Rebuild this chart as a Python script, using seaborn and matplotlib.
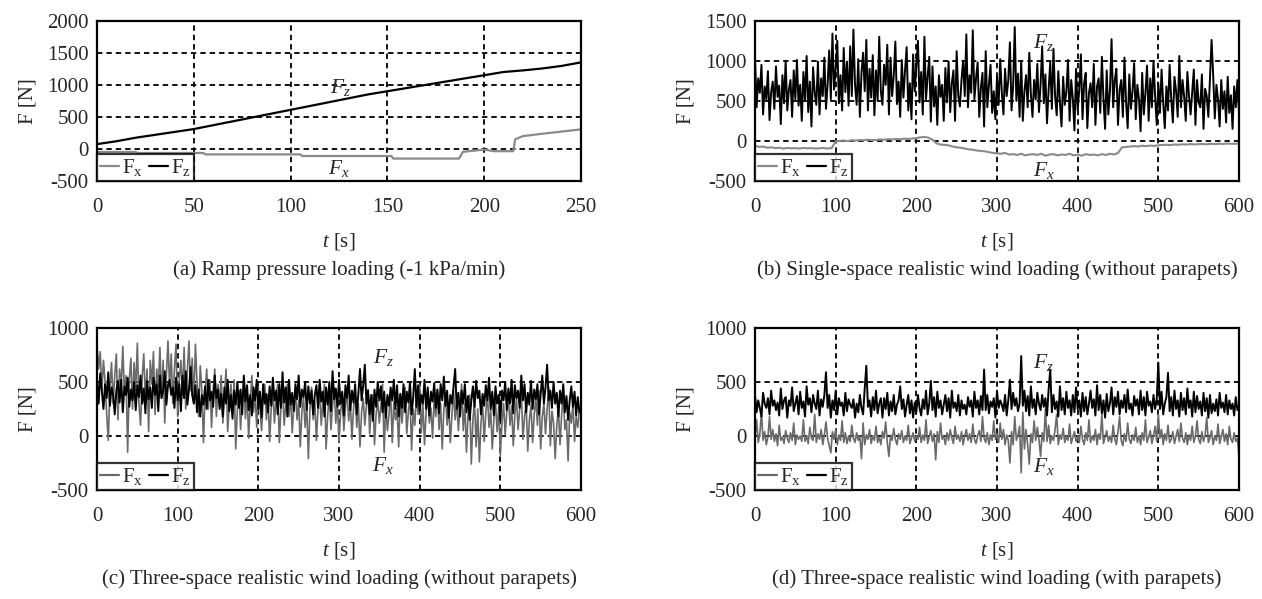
import numpy as np
import matplotlib
matplotlib.use("Agg")
import matplotlib.pyplot as plt
import seaborn as sns

sns.set_style("white")
plt.rcParams['font.family'] = ['Liberation Serif', 'DejaVu Serif']
plt.rcParams['mathtext.fontset'] = 'custom'
plt.rcParams['mathtext.rm'] = 'Liberation Serif'
plt.rcParams['mathtext.it'] = 'Liberation Serif:italic'
plt.rcParams['axes.unicode_minus'] = False

# ---- (a) ramp pressure loading
t_a_fz = [0, 10, 20, 30, 40, 50, 60, 70, 80, 90, 100, 110, 120, 130, 140, 150,
          160, 170, 180, 190, 200, 210, 220, 230, 240, 250]
fz_a = [75, 120, 175, 220, 265, 310, 370, 430, 490, 550, 610, 670, 730, 790, 850, 900,
        950, 1000, 1050, 1100, 1150, 1200, 1225, 1255, 1295, 1350]
t_a_fx = [0, 20, 21, 55, 56, 105, 106, 152, 153, 187, 189, 200, 205, 215, 216, 220, 230, 250]
fx_a = [-47, -47, -63, -63, -85, -85, -110, -110, -150, -150, -45, -10, -35, -35, 150, 200, 237, 305]

# sampling grid of the wind records (2 s)
t_wind = np.arange(0, 601, 2)

# ---- (b) single-space realistic wind loading (without parapets)
fz_b = [1050, 420, 780, 600, 950, 330, 680, 520, 870, 260, 610, 740, 400, 930, 550,
        690, 210, 820, 470, 1000, 380, 640, 760, 300, 880, 520, 1010, 440, 700, 250,
        860, 510, 1060, 360, 740, 180, 920, 600, 450, 990, 330, 780, 560, 1040, 400,
        700, 1130, 520, 1340, 640, 900, 1250, 470, 820, 380, 1160, 610, 990, 440, 1180,
        560, 1390, 700, 450, 1020, 300, 850, 1100, 620, 1260, 380, 900, 540, 1070, 320,
        880, 500, 1300, 620, 450, 950, 700, 1200, 330, 1040, 560, 820, 1240, 460, 740,
        300, 1010, 540, 880, 1170, 380, 720, 270, 1080, 620, 940, 1250, 480, 860, 330,
        1300, 520, 800, 1050, 240, 930, 430, 680, 200, 820, 550, 700, 250, 910, 480,
        990, 360, 720, 880, 250, 1120, 560, 430, 760, 1000, 560, 1330, 420, 820, 600,
        1380, 520, 780, 980, 300, 660, 850, 180, 1120, 420, 700, 950, 350, 620, 270,
        800, 450, 1020, 600, 330, 900, 560, 760, 1230, 380, 690, 1420, 500, 840, 300,
        1000, 250, 620, 820, 420, 1100, 580, 300, 760, 520, 960, 360, 700, 1180, 470,
        830, 220, 640, 980, 400, 1150, 560, 320, 870, 480, 180, 800, 450, 620, 1010,
        250, 760, 530, 130, 900, 380, 640, 1080, 270, 720, 850, 160, 600, 720, 420,
        960, 200, 680, 780, 350, 1050, 520, 150, 880, 330, 620, 1270, 420, 760, 900,
        200, 640, 760, 300, 1040, 480, 160, 830, 400, 620, 970, 270, 700, 520, 120,
        850, 330, 600, 940, 250, 780, 420, 1000, 560, 200, 720, 350, 890, 480, 160,
        680, 380, 950, 520, 230, 800, 620, 300, 1060, 420, 760, 550, 250, 860, 560,
        330, 620, 890, 200, 760, 480, 420, 830, 150, 650, 560, 300, 780, 1260, 820,
        280, 700, 520, 180, 760, 400, 620, 230, 800, 350, 570, 150, 680, 420, 760,
        350]
t_b_fx = np.arange(0, 601, 5)
fx_b = [-60, -75, -70, -85, -80, -90, -85, -95, -88, -92,
        -90, -95, -88, -92, -90, -95, -92, -88, -95, -90,
        -5, 0, 5, -2, 8, 5, 12, 8, 15, 10,
        12, 18, 15, 22, 18, 25, 20, 28, 25, 30,
        35, 45, 50, 40, 15, -30, -45, -50, -55, -70,
        -80, -85, -95, -105, -110, -120, -125, -130, -140, -150,
        -155, -160, -150, -170, -165, -175, -160, -180, -170, -165,
        -175, -160, -185, -170, -165, -180, -170, -175, -160, -180,
        -170, -185, -165, -175, -170, -180, -165, -175, -160, -170,
        -150, -80, -75, -70, -65, -70, -60, -65, -58, -62,
        -55, -50, -48, -52, -45, -48, -42, -45, -40, -44,
        -40, -38, -42, -36, -40, -35, -38, -33, -36, -35,
        -35]

# ---- (c) three-space realistic wind loading (without parapets)
fz_c = [520, 300, 580, 420, 250, 480, 350, 590, 280, 450, 380, 200, 420, 510, 310,
        520, 220, 460, 380, 540, 270, 430, 330, 500, 240, 470, 360, 560, 300, 440,
        210, 510, 340, 450, 260, 540, 380, 480, 230, 560, 350, 420, 600, 290, 470,
        520, 380, 450, 260, 540, 330, 480, 230, 560, 350, 600, 290, 430, 640, 380,
        300, 470, 220, 430, 180, 380, 290, 460, 250, 520, 330, 410, 270, 560, 350,
        430, 250, 390, 180, 450, 300, 520, 230, 380, 160, 420, 290, 500, 260, 430,
        200, 560, 320, 470, 240, 380, 190, 450, 330, 520, 250, 410, 170, 480, 300,
        390, 220, 460, 280, 540, 330, 420, 200, 480, 260, 590, 310, 450, 180, 520,
        290, 400, 230, 480, 340, 560, 270, 430, 360, 500, 240, 460, 300, 420, 200,
        380, 470, 260, 520, 320, 410, 180, 450, 290, 500, 230, 600, 340, 440, 270,
        520, 300, 410, 190, 470, 350, 560, 240, 420, 310, 480, 200, 390, 620, 330,
        470, 660, 300, 420, 200, 380, 140, 430, 270, 500, 330, 460, 220, 410, 170,
        380, 280, 450, 330, 520, 250, 470, 180, 390, 260, 480, 220, 410, 310, 500,
        200, 360, 620, 270, 470, 230, 380, 300, 520, 250, 450, 190, 410, 320, 490,
        260, 430, 210, 480, 330, 550, 280, 420, 170, 380, 300, 460, 620, 250, 400,
        180, 420, 300, 480, 220, 370, 150, 330, 460, 270, 510, 350, 420, 200, 390,
        280, 470, 330, 540, 250, 410, 190, 460, 300, 380, 140, 420, 330, 500, 240,
        440, 300, 520, 210, 470, 350, 420, 260, 560, 330, 480, 220, 400, 290, 510,
        250, 430, 340, 480, 200, 390, 560, 300, 450, 660, 330, 420, 260, 500, 300,
        400, 180, 420, 300, 480, 220, 370, 150, 330, 460, 270, 410, 190, 360, 220,
        260]
fx_c = [850, 620, 780, 420, 700, 500, 200, -40, 450, 680, 300, 560, 760, 150, 620,
        450, 830, 380, 560, -150, 520, 720, 250, 680, 420, 860, 300, 100, 540, 760,
        330, 620, 40, 700, 480, 780, 200, 620, 450, 820, 350, 700, 120, 560, 880,
        450, 760, 300, 620, 850, 180, 520, 700, 380, 820, 250, 600, 880, 420, 720,
        300, 850, 500, 180, 650, 420, -60, 400, 620, 250, 520, 80, 430, 620, 180,
        480, 300, 560, 120, 380, 620, 40, 300, 480, 200, 520, -120, 250, 420, 60,
        350, 520, 160, 400, -20, 310, 560, 220, 380, 80, 450, 260, 50, 330, 480,
        150, 380, -50, 260, 420, 120, 350, 480, -60, 250, 450, 100, 300, 480, 180,
        380, 30, 280, 420, 150, 330, -100, 220, 360, 80, 300, -210, 250, 450, 150,
        320, -40, 250, 400, 100, 330, 480, -120, 200, 380, 60, 280, 450, 120, 310,
        -60, 220, 380, 50, 260, 420, 140, 330, -30, 250, 400, 80, 300, -100, 220,
        350, 100, 280, 430, 20, 250, 380, -80, 200, 330, 120, 280, 480, -150, 300,
        50, 200, 400, -60, 320, 150, 250, -100, 380, 120, 300, 450, 20, 230, 360,
        -130, 250, 100, 380, 200, 470, 30, 300, -80, 220, 400, 120, 260, -20, 350,
        180, 430, 60, 300, -120, 250, 380, 100, 280, -60, 200, 420, 150, 320, 50,
        280, 480, 50, 300, -150, 200, 380, -260, 150, 320, -100, 250, -240, 120, 300,
        -50, 220, 380, 80, 250, -120, 150, 320, 40, 270, -180, 120, 300, 10, 230,
        370, 100, 280, -90, 200, 350, 60, 250, 420, -30, 180, 300, -140, 150, 280,
        -60, 200, 350, 100, 420, -120, 180, 300, 20, 250, 450, -90, 230, 120, -210,
        100, 250, -80, 200, 380, 60, 150, -230, 220, 120, 300, -50, 180, 80, 250,
        220]

# ---- (d) three-space realistic wind loading (with parapets)
fz_d = [380, 220, 330, 260, 180, 400, 300, 260, 350, 200, 420, 280, 330, 240, 310,
        190, 440, 250, 330, 360, 170, 330, 280, 450, 230, 300, 370, 200, 410, 260,
        320, 180, 460, 290, 350, 220, 380, 300, 250, 420, 190, 340, 270, 380, 590,
        260, 380, 170, 330, 240, 420, 200, 350, 280, 310, 190, 400, 230, 340, 290,
        260, 340, 170, 300, 220, 380, 260, 200, 440, 650, 270, 330, 180, 360, 240,
        420, 210, 300, 350, 170, 350, 250, 400, 190, 320, 230, 380, 200, 290, 330,
        460, 250, 340, 180, 290, 380, 210, 330, 170, 310, 220, 380, 260, 190, 340,
        250, 420, 200, 300, 510, 240, 360, 180, 410, 260, 330, 200, 290, 380, 230,
        350, 170, 420, 260, 310, 230, 380, 190, 330, 250, 290, 200, 360, 270, 330,
        180, 410, 260, 330, 200, 370, 240, 615, 240, 380, 210, 320, 270, 350, 170,
        420, 260, 330, 290, 230, 380, 190, 330, 520, 250, 400, 280, 350, 230, 300,
        740, 280, 420, 230, 370, 190, 460, 260, 340, 200, 400, 300, 240, 380, 270,
        350, 190, 430, 615, 220, 380, 250, 320, 180, 460, 240, 350, 200, 410, 260,
        330, 190, 380, 220, 450, 250, 330, 180, 400, 230, 360, 200, 300, 420, 260,
        340, 190, 470, 240, 380, 210, 330, 170, 390, 230, 300, 450, 200, 360, 270,
        410, 200, 330, 260, 380, 220, 430, 250, 300, 190, 370, 280, 340, 200, 420,
        240, 360, 190, 410, 280, 320, 220, 380, 250, 340, 680, 250, 410, 200, 300,
        360, 585, 230, 360, 190, 420, 250, 330, 180, 400, 240, 350, 200, 440, 260,
        330, 180, 410, 220, 370, 250, 320, 190, 400, 230, 350, 170, 380, 210, 300,
        230, 340, 190, 400, 260, 310, 220, 380, 200, 330, 250, 300, 190, 360, 240,
        260]
fx_d = [-20, 150, -60, 20, 220, -40, 40, -80, -10, 180, -30, 60, -50, 20, -90,
        100, -40, -10, -70, 50, -20, -60, 30, -40, 120, -80, 10, -30, 0, -50,
        150, -50, 0, -70, 80, -20, -40, 200, -60, 20, -30, 60, -80, 10, 130,
        -20, -90, -155, 40, -30, 60, -80, 10, -40, 140, -60, 30, -70, 0, -50,
        100, -20, -60, 30, -40, 0, -210, 120, -80, 10, -30, 60, -70, 0, -40,
        90, -60, -10, -80, 40, -20, 130, -60, -190, 10, -40, 70, -30, -80, 20,
        -30, 50, -60, 0, -40, 100, -70, -20, 30, -50, 0, -30, 80, -60, 10,
        -40, 150, -70, -10, 50, -50, 20, -220, 40, -60, 120, -30, 0, -80, 30,
        -40, 60, -20, -70, 90, -30, 10, -50, 40, -80, 0, 60, -40, 20, -60,
        110, -30, -70, 0, 50, -50, 180, -20, -60, 30, -80, 10, -40, 140, -30,
        20, -60, 120, -30, 60, -80, 10, -40, -250, 40, -80, 180, -40, 10, 90,
        -340, 220, -120, 60, -80, -260, 20, -60, 140, -40, 80, -30, -190, 30, -50,
        250, -50, 100, -70, 0, -40, 60, 200, -80, 10, -30, 70, -60, 0, -40,
        110, -70, -10, 40, -50, 0, -60, 90, -30, -80, 30, -40, 150, -60, 0,
        -40, 60, -80, 20, -30, 200, -70, -10, 50, -50, 0, -60, 100, -30, -80,
        40, 180, -40, -90, 20, -50, 120, -30, -70, 10, -40, 80, -60, 0, -80,
        30, -40, 150, -60, -10, 50, -70, 0, 90, -50, 200, -20, 60, -80, 20,
        -40, 100, -60, -30, 40, -70, 0, 60, -50, 120, -20, -60, 30, -80, 10,
        -40, 90, -60, 0, 140, -30, -70, 40, -50, 10, 170, -60, -20, 50, -80,
        0, -40, 110, -70, -10, 60, -50, 20, -80, 90, -30, -60, 30, -50, -20,
        -190]

captions = ["(a) Ramp pressure loading (-1 kPa/min)",
            "(b) Single-space realistic wind loading (without parapets)",
            "(c) Three-space realistic wind loading (without parapets)",
            "(d) Three-space realistic wind loading (with parapets)"]

fig = plt.figure(figsize=(12.62, 5.99), dpi=100)
W, H = 1262, 599
boxes = [(97, 20.7, 581, 181), (755, 20.7, 1239, 181),
         (97, 328, 581, 490), (755, 328, 1239, 490)]
axes = [fig.add_axes([l / W, 1 - b / H, (r - l) / W, (b - t) / H]) for (l, t, r, b) in boxes]

panels = [
    dict(tx=t_a_fx, fx=fx_a, tz=t_a_fz, fz=fz_a, xlim=(0, 250), xt=np.arange(0, 251, 50),
         ylim=(-500, 2000), yt=np.arange(-500, 2001, 500), lwx=1.6, lwz=1.6, gray='#8a8a8a',
         fzpos=(126, 960), fxpos=(125, -300)),
    dict(tx=t_b_fx, fx=fx_b, tz=t_wind, fz=fz_b, xlim=(0, 600), xt=np.arange(0, 601, 100),
         ylim=(-500, 1500), yt=np.arange(-500, 1501, 500), lwx=1.5, lwz=1.4, gray='#8a8a8a',
         fzpos=(358, 1225), fxpos=(358, -375)),
    dict(tx=t_wind, fx=fx_c, tz=t_wind, fz=fz_c, xlim=(0, 600), xt=np.arange(0, 601, 100),
         ylim=(-500, 1000), yt=np.arange(-500, 1001, 500), lwx=1.2, lwz=1.4, gray='#6a6a6a',
         fzpos=(355, 730), fxpos=(355, -270)),
    dict(tx=t_wind, fx=fx_d, tz=t_wind, fz=fz_d, xlim=(0, 600), xt=np.arange(0, 601, 100),
         ylim=(-500, 1000), yt=np.arange(-500, 1001, 500), lwx=1.2, lwz=1.4, gray='#6a6a6a',
         fzpos=(358, 685), fxpos=(358, -285)),
]

FS = 15
for ax, p, cap in zip(axes, panels, captions):
    ax.set_axisbelow(True)
    sns.lineplot(x=p['tx'], y=p['fx'], ax=ax, color=p['gray'], lw=p['lwx'],
                 estimator=None, sort=False, label=r'F$_\mathregular{x}$')
    sns.lineplot(x=p['tz'], y=p['fz'], ax=ax, color='black', lw=p['lwz'],
                 estimator=None, sort=False, label=r'F$_\mathregular{z}$')
    ax.set_xlim(*p['xlim'])
    ax.set_ylim(*p['ylim'])
    ax.set_xticks(p['xt'])
    ax.set_yticks(p['yt'])
    ax.grid(True, color='black', lw=1.3, linestyle=(0, (3, 2.2)))
    for s in ax.spines.values():
        s.set_color('black')
        s.set_linewidth(1.6)
    ax.tick_params(axis='both', length=0, labelsize=FS)
    ax.tick_params(axis='x', pad=12)
    ax.tick_params(axis='y', pad=6)
    ax.set_xlabel(r'$t$ [s]', fontsize=FS, labelpad=10)
    ax.set_ylabel('F [N]', fontsize=FS, labelpad=7)
    ax.text(*p['fzpos'], r'$F_z$', fontsize=FS + 0.5, ha='center', va='center')
    ax.text(*p['fxpos'], r'$F_x$', fontsize=FS + 0.5, ha='center', va='center')
    leg = ax.legend(loc='lower left', ncol=2, frameon=True, fancybox=False,
                    borderaxespad=0, borderpad=0.15, handlelength=0.9,
                    handletextpad=0.15, columnspacing=0.3, fontsize=FS)
    leg.get_frame().set_edgecolor('black')
    leg.get_frame().set_linewidth(1.6)
    for h in leg.get_lines():
        h.set_linewidth(1.6)
    pos = ax.get_position()
    fig.text(pos.x0 + pos.width / 2, pos.y0 - 0.148, cap, ha='center', va='center', fontsize=FS)

fig.savefig('out.png', dpi=100)
